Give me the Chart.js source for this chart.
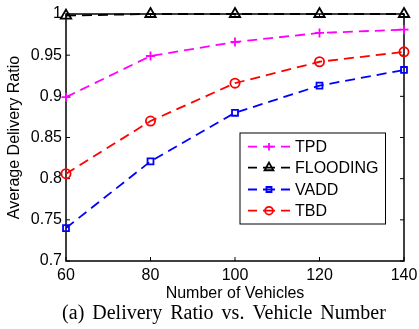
<!DOCTYPE html>
<html>
<head>
<meta charset="utf-8">
<script src="https://cdn.jsdelivr.net/npm/chart.js@4"></script>
<style>
  html, body { margin: 0; padding: 0; background: #fff; }
  #wrap { width: 419px; height: 329px; position: relative; }
</style>
</head>
<body>
<div id="wrap"><canvas id="chart" width="419" height="329"></canvas></div>
<script>
// данные с картинки
const vehicles = [60, 80, 100, 120, 140];
const tpd = [0.899, 0.949, 0.966, 0.977, 0.981];
const flooding = [0.998, 1.0, 1.0, 1.0, 1.0];
const vadd = [0.740, 0.821, 0.880, 0.913, 0.932];
const tbd = [0.806, 0.870, 0.916, 0.942, 0.954];

const seriesNames = ["TPD", "FLOODING", "VADD", "TBD"];
const seriesColors = ["#ff00ff", "#000000", "#0000ff", "#ff0000"];
const seriesMarkers = ["cross", "triangle", "rect", "circle"];
const markerRadius = [4.5, 6, 4.2, 4.6];
const seriesValues = [tpd, flooding, vadd, tbd];

const xTitle = "Number of Vehicles";
const yTitle = "Average Delivery Ratio";
const caption = "(a) Delivery Ratio vs. Vehicle Number";

const sans = "'Liberation Sans', Arial, Helvetica, sans-serif";
const serif = "'Liberation Serif', 'Times New Roman', serif";

const datasets = seriesNames.map((name, i) => ({
  label: name,
  data: vehicles.map((v, j) => ({ x: v, y: seriesValues[i][j] })),
  borderColor: seriesColors[i],
  backgroundColor: "rgba(0,0,0,0)",
  borderWidth: 1.8,
  borderDash: [10, 6],
  pointStyle: seriesMarkers[i],
  pointRadius: markerRadius[i],
  pointBorderWidth: 1.8,
  pointBorderColor: seriesColors[i],
  pointBackgroundColor: "rgba(0,0,0,0)",
  tension: 0,
  clip: false,
}));

// рамка, внутренние засечки, подписи осей, легенда
const framePlugin = {
  id: "frame",
  beforeDatasetsDraw(chart) {
    const ctx = chart.ctx;
    const a = chart.chartArea;
    const xs = chart.scales.x;
    const ys = chart.scales.y;
    ctx.save();
    ctx.strokeStyle = "#000";
    ctx.lineWidth = 1.5;
    ctx.setLineDash([]);
    ctx.strokeRect(a.left, a.top, a.right - a.left, a.bottom - a.top);
    ctx.lineWidth = 1;
    const t = 4;
    ctx.beginPath();
    xs.ticks.forEach((tk) => {
      const px = xs.getPixelForValue(tk.value);
      ctx.moveTo(px, a.bottom);
      ctx.lineTo(px, a.bottom - t);
      ctx.moveTo(px, a.top);
      ctx.lineTo(px, a.top + t);
    });
    ys.ticks.forEach((tk) => {
      const py = ys.getPixelForValue(tk.value);
      ctx.moveTo(a.left, py);
      ctx.lineTo(a.left + t, py);
      ctx.moveTo(a.right, py);
      ctx.lineTo(a.right - t, py);
    });
    ctx.stroke();

    // подписи оси X (рисуем сами, чтобы правый край не сдвигался)
    ctx.fillStyle = "#000";
    ctx.font = "16px " + sans;
    ctx.textAlign = "center";
    ctx.textBaseline = "middle";
    xs.ticks.forEach((tk) => {
      ctx.fillText(String(tk.value), xs.getPixelForValue(tk.value), 276);
    });
    ctx.restore();
  },
  afterDraw(chart) {
    const ctx = chart.ctx;
    const a = chart.chartArea;
    ctx.save();
    ctx.fillStyle = "#000";
    ctx.font = "16px " + sans;
    ctx.textAlign = "center";
    ctx.textBaseline = "middle";
    ctx.fillText(xTitle, (a.left + a.right) / 2, 294);
    ctx.save();
    ctx.translate(15, (a.top + a.bottom) / 2);
    ctx.rotate(-Math.PI / 2);
    ctx.fillText(yTitle, 0, 0);
    ctx.restore();
    ctx.font = "20px " + serif;
    ctx.wordSpacing = "3px";
    ctx.fillText(caption, 224, 314);
    ctx.wordSpacing = "0px";

    // легенда
    const box = { x: 240, y: 133, w: 145.5, h: 91 };
    ctx.fillStyle = "#fff";
    ctx.fillRect(box.x, box.y, box.w, box.h);
    ctx.strokeStyle = "#000";
    ctx.lineWidth = 1;
    ctx.strokeRect(box.x, box.y, box.w, box.h);
    const rows = [146.7, 167.7, 189.5, 210.7];
    seriesNames.forEach((name, i) => {
      const y = rows[i];
      ctx.strokeStyle = seriesColors[i];
      ctx.lineWidth = 1.8;
      ctx.beginPath();
      [[248, 257], [263, 275], [281, 290]].forEach((s) => {
        ctx.moveTo(s[0], y);
        ctx.lineTo(s[1], y);
      });
      ctx.stroke();
      ctx.fillStyle = "rgba(0,0,0,0)";
      Chart.helpers.drawPoint(ctx, {
        pointStyle: seriesMarkers[i],
        radius: markerRadius[i] * 0.85,
        rotation: 0,
        borderWidth: 1.8,
      }, 269, y);
      ctx.fillStyle = "#000";
      ctx.font = "16px " + sans;
      ctx.textAlign = "left";
      ctx.textBaseline = "middle";
      ctx.fillText(name, 295, y + 1);
    });
    ctx.restore();
  },
};

new Chart(document.getElementById("chart").getContext("2d"), {
  type: "line",
  data: { datasets: datasets },
  options: {
    responsive: false,
    animation: false,
    events: [],
    layout: { padding: { top: 14, right: 15, left: 0, bottom: 0 } },
    plugins: {
      legend: { display: false },
      tooltip: { enabled: false },
      title: { display: false },
    },
    scales: {
      x: {
        type: "linear",
        min: 60,
        max: 140,
        ticks: { stepSize: 20, display: false },
        grid: { display: false, drawTicks: false },
        border: { display: false },
        afterFit(scale) { scale.height = 68; },
      },
      y: {
        type: "linear",
        min: 0.7,
        max: 1,
        ticks: {
          stepSize: 0.05,
          color: "#000",
          font: { family: sans, size: 16 },
          padding: 4,
          callback: (v) => String(Number(v.toFixed(2))),
        },
        grid: { display: false, drawTicks: false },
        border: { display: false },
        afterFit(scale) { scale.width = 66; },
      },
    },
  },
  plugins: [framePlugin],
});
</script>
</body>
</html>
